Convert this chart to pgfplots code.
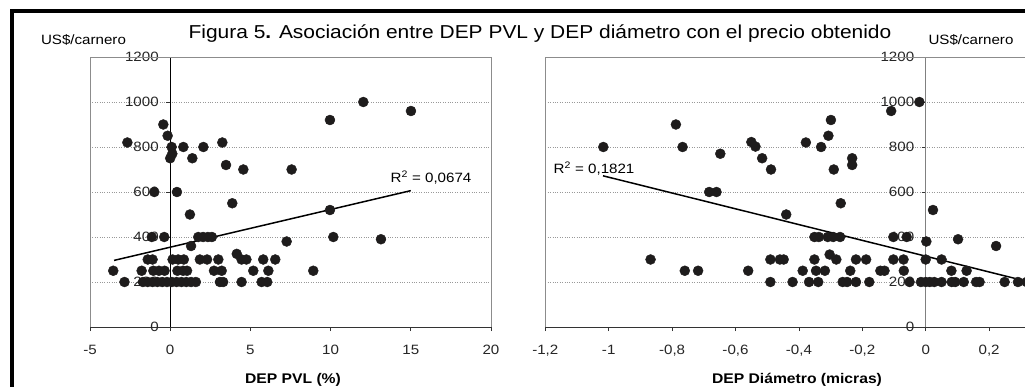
\documentclass[border=0pt]{standalone}
\usepackage{fontspec}
\setmainfont{Liberation Sans}[FakeStretch=1.12]
\usepackage{pgfplots}
\pgfplotsset{compat=1.18}
\definecolor{dot}{HTML}{1E1C1C}
\pgfplotsset{
  panel/.style={
    scale only axis, height=270pt, ymin=0, ymax=1200,
    ytick={0,200,...,1200},
    axis x line=bottom, axis y line=center,
    x axis line style={-, draw=black!80, line width=0.8pt},
    hide obscured x ticks=false, hide obscured y ticks=false,
    ymajorgrids, grid style={dotted, black!40, line width=0.8pt},
    tick style={black!80, line width=0.7pt},
    tick align=outside, major tick length=4pt,
    ticklabel style={font=\fontsize{13.5}{13.5}\selectfont, text=black!85},
    xticklabel style={yshift=-11pt},
    yticklabel style={xshift=-4pt},
    /pgf/number format/assume math mode=true,
    /pgf/number format/use comma,
    /pgf/number format/1000 sep={},
    after end axis/.code={\draw[black!45, line width=0.6pt] (rel axis cs:0,0) -- (rel axis cs:0,1) -- (rel axis cs:1,1) -- (rel axis cs:1,0);},
  },
  dots/.style={only marks, mark=*, mark size=5pt, draw=dot, fill=dot},
  trend/.style={mark=none, draw=black, line width=1.5pt},
}
\begin{document}
\begin{tikzpicture}
\begin{scope}
\clip (0,0) rectangle (1025pt,386pt);
\fill[white] (0,0) rectangle (1025pt,386pt);
% Left panel
\begin{axis}[panel, at={(90pt,59pt)}, anchor=south west, width=401pt,
  xmin=-5, xmax=20, xtick={-5,0,5,10,15,20},
  y axis line style={-, draw=black, line width=0.8pt}]
\addplot[dots] coordinates {
(-2.85,200) (-1.7,200) (-1.4,200) (-1.1,200) (-0.8,200) (-0.5,200) (-0.2,200)
(0.1,200) (0.4,200) (0.7,200) (1.0,200) (1.3,200) (1.6,200) (3.1,200) (3.3,200)
(4.45,200) (5.7,200) (6.05,200)
(-3.55,250) (-1.78,250) (-1.05,250) (-0.7,250) (-0.35,250) (0.45,250) (0.8,250)
(1.05,250) (2.73,250) (3.21,250) (5.18,250) (6.12,250) (8.92,250)
(-1.4,300) (-1.1,300) (0.15,300) (0.5,300) (0.85,300) (1.85,300) (2.3,300)
(3.0,300) (4.15,325) (4.45,300) (4.75,300) (5.8,300) (6.55,300)
(-1.15,400) (-0.37,400) (1.75,400) (2.05,400) (2.35,400) (2.6,400)
(10.17,400) (13.14,390) (1.3,360) (7.26,380) (1.23,500) (3.87,550) (9.96,520)
(-0.99,600) (0.42,600) (-2.67,820) (-0.43,900) (-0.16,850) (0.09,800) (0.13,770)
(0.0,750) (0.82,800) (1.38,750) (2.07,800) (3.25,820) (3.48,720) (4.56,700)
(7.57,700) (9.96,920) (12.04,1000) (15.01,960)
};
\addplot[trend] coordinates {(-3.5,296) (15,606)};
\end{axis}
% Right panel
\begin{axis}[panel, at={(545.3pt,59pt)}, anchor=south west, width=507.2pt,
  xmin=-1.2, xmax=0.4, xtick={-1.2,-1,-0.8,-0.6,-0.4,-0.2,0,0.2},
  y axis line style={-, draw=black!50, line width=0.8pt}]
\addplot[dots] coordinates {
(-0.49,200) (-0.42,200) (-0.368,200) (-0.339,200) (-0.262,200) (-0.248,200)
(-0.22,200) (-0.178,200) (-0.051,200) (-0.015,200) (0.0,200) (0.013,200)
(0.027,200) (0.05,200) (0.082,200) (0.093,200) (0.12,200) (0.159,200) (0.17,200)
(0.249,200) (0.291,200) (0.318,200)
(-0.76,250) (-0.718,250) (-0.56,250) (-0.388,250) (-0.346,250) (-0.318,250)
(-0.238,250) (-0.143,250) (-0.13,250) (-0.069,250) (0.081,250) (0.129,250)
(-0.868,300) (-0.49,300) (-0.46,300) (-0.448,300) (-0.351,300) (-0.282,300)
(-0.22,300) (-0.188,300) (-0.102,300) (-0.07,300) (0.0,300) (0.05,300)
(-0.303,322)
(-0.351,400) (-0.337,400) (-0.309,400) (-0.292,400) (-0.27,400) (-0.102,400) (-0.06,400)
(0.002,380) (0.102,390) (0.222,360) (0.023,520) (-0.268,550) (-0.44,500)
(-0.683,600) (-0.66,600) (-1.017,800) (-0.788,900) (-0.767,800) (-0.648,770)
(-0.55,822) (-0.537,802) (-0.516,750) (-0.488,700) (-0.378,820) (-0.33,800)
(-0.307,850) (-0.299,920) (-0.29,700) (-0.232,750) (-0.232,720) (-0.109,960)
(-0.02,1000)
};
\addplot[trend] coordinates {(-1.018,672) (0.35,192)};
\end{axis}
% Frame and texts
\draw[line width=3.5pt] (12pt,-30pt) rectangle (1060pt,375pt);
\node[anchor=base, font=\fontsize{18.7}{18.7}\selectfont] at (540pt,347pt) {Figura 5\textbf{.} Asociación entre DEP PVL y DEP diámetro con el precio obtenido};
\node[anchor=base, font=\fontsize{13.5}{13.5}\selectfont] at (83.5pt,341.7pt) {US\$/carnero};
\node[anchor=base, font=\fontsize{13.5}{13.5}\selectfont] at (971pt,341.7pt) {US\$/carnero};
\node[anchor=base, font=\fontsize{13.5}{13.5}\selectfont] at (431pt,203.3pt) {R\textsuperscript{2} = 0,0674};
\node[anchor=base, font=\fontsize{13.5}{13.5}\selectfont] at (594pt,212pt) {R\textsuperscript{2} = 0,1821};
\node[anchor=base, font=\bfseries\fontsize{14}{14}\selectfont] at (293pt,2.7pt) {DEP PVL (\%)};
\node[anchor=base, font=\bfseries\fontsize{14}{14}\selectfont] at (797pt,2.7pt) {DEP Diámetro (micras)};
\end{scope}
\pgfresetboundingbox
\useasboundingbox (0,0) rectangle (1025pt,386pt);
\end{tikzpicture}
\end{document}
